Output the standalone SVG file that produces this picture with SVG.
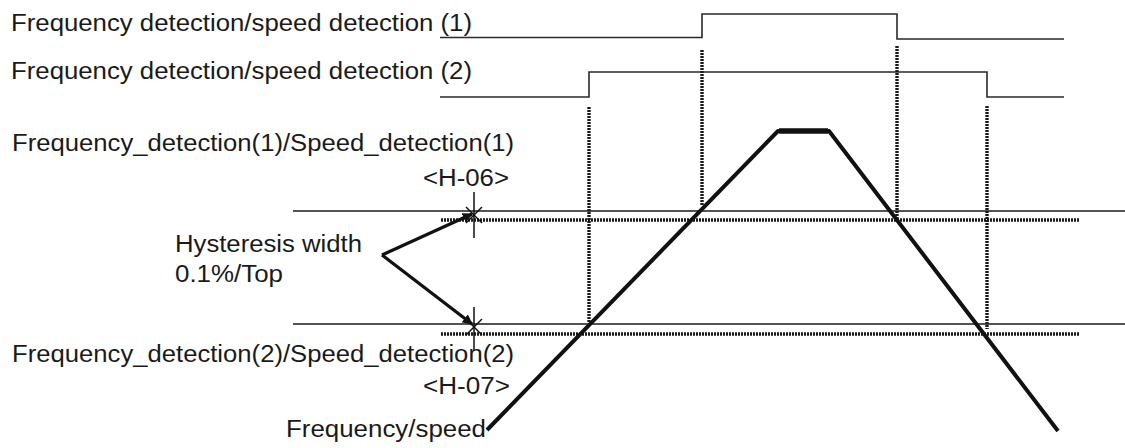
<svg xmlns="http://www.w3.org/2000/svg" width="1125" height="448" viewBox="0 0 1125 448">
<style>
text{font-family:"Liberation Sans",Arial,sans-serif;font-size:23px;fill:#1a1a1a}
.sig{fill:none;stroke:#2a2a2a;stroke-width:1.6}
.thr{fill:none;stroke:#1a1a1a;stroke-width:1.5}
.dot{fill:none;stroke:#1a1a1a;stroke-width:3.4;stroke-dasharray:2 1}
.ramp{fill:none;stroke:#111;stroke-width:4;stroke-linejoin:round}
.star{fill:none;stroke:#111;stroke-width:1.5}
.arm{fill:none;stroke:#111;stroke-width:3.2}
</style>
<defs>
<marker id="ah" viewBox="0 0 10 10" refX="9" refY="5" markerWidth="3.2" markerHeight="3.2" orient="auto" markerUnits="strokeWidth">
<path d="M0,0 L10,5 L0,10 z" fill="#111"/>
</marker>
</defs>
<rect width="1125" height="448" fill="#fff"/>
<g id="labels">
<text x="11" y="31" textLength="461" lengthAdjust="spacingAndGlyphs">Frequency detection/speed detection (1)</text>
<text x="11" y="79" textLength="461" lengthAdjust="spacingAndGlyphs">Frequency detection/speed detection (2)</text>
<text x="12" y="151" textLength="502" lengthAdjust="spacingAndGlyphs">Frequency_detection(1)/Speed_detection(1)</text>
<text x="423" y="186" textLength="86" lengthAdjust="spacingAndGlyphs">&lt;H-06&gt;</text>
<text x="175" y="252" textLength="187" lengthAdjust="spacingAndGlyphs">Hysteresis width</text>
<text x="175" y="282" textLength="108" lengthAdjust="spacingAndGlyphs">0.1%/Top</text>
<text x="12" y="362" textLength="502" lengthAdjust="spacingAndGlyphs">Frequency_detection(2)/Speed_detection(2)</text>
<text x="423" y="394" textLength="87" lengthAdjust="spacingAndGlyphs">&lt;H-07&gt;</text>
<text x="286" y="437" textLength="200" lengthAdjust="spacingAndGlyphs">Frequency/speed</text>
</g>
<g id="signal1">
<polyline class="sig" points="440,37.5 702,37.5 702,14 897,14 897,39 1064,39"/>
</g>
<g id="signal2">
<polyline class="sig" points="440,97 589,97 589,72 987,72 987,97 1064,97"/>
</g>
<g id="thresholds">
<line class="thr" x1="293" y1="211" x2="1125" y2="211"/>
<line class="dot" x1="441" y1="220" x2="1079" y2="220"/>
<line class="thr" x1="293" y1="324" x2="1125" y2="324"/>
<line class="dot" x1="441" y1="334" x2="1079" y2="334"/>
</g>
<g id="markers">
<line class="dot" x1="589" y1="107" x2="589" y2="322"/>
<line class="dot" x1="702" y1="50" x2="702" y2="205"/>
<line class="dot" x1="897" y1="46" x2="897" y2="220"/>
<line class="dot" x1="987" y1="106" x2="987" y2="329"/>
</g>
<g id="frequency-ramp">
<polyline class="ramp" points="487,430 778,131 829,131 1058,431"/>
<line x1="779" y1="131" x2="828" y2="131" stroke="#111" stroke-width="5.5"/>
</g>
<g id="stars">
<line class="star" x1="474" y1="192" x2="474" y2="238"/>
<line class="star" x1="466" y1="207" x2="482" y2="223"/>
<line class="star" x1="482" y1="207" x2="466" y2="223"/>
<line class="star" x1="474" y1="307" x2="474" y2="351"/>
<line class="star" x1="466" y1="319" x2="482" y2="335"/>
<line class="star" x1="482" y1="319" x2="466" y2="335"/>
</g>
<g id="connectors">
<line class="arm" x1="382" y1="255" x2="472" y2="214" marker-end="url(#ah)"/>
<line class="arm" x1="382" y1="255" x2="472" y2="324" marker-end="url(#ah)"/>
</g>
</svg>
